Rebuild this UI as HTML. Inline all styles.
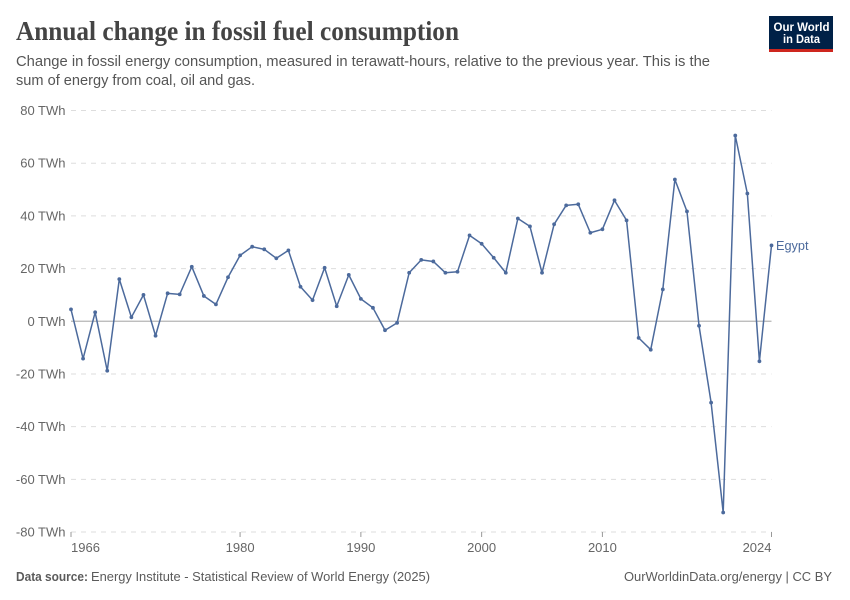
<!DOCTYPE html>
<html lang="en">
<head>
<meta charset="utf-8">
<title>Annual change in fossil fuel consumption</title>
<style>
html,body{margin:0;padding:0;background:#fff;}
#chart{display:block;width:850px;height:600px;font-family:"Liberation Sans",sans-serif;}
</style>
</head>
<body>
<svg id="chart" xmlns="http://www.w3.org/2000/svg" width="850" height="600" viewBox="0 0 850 600">
  <rect x="0" y="0" width="850" height="600" fill="#ffffff"/>
  <text x="16" y="40" font-family="'Liberation Serif',serif" font-weight="700" font-size="27" fill="#444444" textLength="443" lengthAdjust="spacingAndGlyphs">Annual change in fossil fuel consumption</text>
  <text x="16" y="66" font-size="14.5" fill="#555555" textLength="694" lengthAdjust="spacingAndGlyphs">Change in fossil energy consumption, measured in terawatt-hours, relative to the previous year. This is the</text>
  <text x="16" y="85" font-size="14.5" fill="#555555" textLength="239" lengthAdjust="spacingAndGlyphs">sum of energy from coal, oil and gas.</text>

  <g>
    <rect x="769" y="16" width="64" height="36" fill="#002147"/>
    <rect x="769" y="49" width="64" height="3" fill="#ce261e"/>
    <text x="801.5" y="31" text-anchor="middle" font-size="12" font-weight="700" fill="#ffffff" textLength="56" lengthAdjust="spacingAndGlyphs">Our World</text>
    <text x="801.5" y="43" text-anchor="middle" font-size="12" font-weight="700" fill="#ffffff" textLength="37" lengthAdjust="spacingAndGlyphs">in Data</text>
  </g>

  <g id="y-axis"></g>
  <g id="x-axis"></g>
  <g id="series"></g>

  <text x="16" y="581" font-size="12.5" font-weight="700" fill="#5b5b5b" textLength="72" lengthAdjust="spacingAndGlyphs">Data source:</text>
  <text x="91" y="581" font-size="12.5" fill="#5b5b5b" textLength="339" lengthAdjust="spacingAndGlyphs">Energy Institute - Statistical Review of World Energy (2025)</text>
  <text x="624" y="581" font-size="12.5" fill="#5b5b5b" textLength="208" lengthAdjust="spacingAndGlyphs">OurWorldinData.org/energy | CC BY</text>
</svg>
<script>
var years = [1966,1967,1968,1969,1970,1971,1972,1973,1974,1975,1976,1977,1978,1979,1980,1981,1982,1983,1984,1985,1986,1987,1988,1989,1990,1991,1992,1993,1994,1995,1996,1997,1998,1999,2000,2001,2002,2003,2004,2005,2006,2007,2008,2009,2010,2011,2012,2013,2014,2015,2016,2017,2018,2019,2020,2021,2022,2023,2024];
var egyptValues = [4.5,-14.2,3.4,-18.8,16,1.5,10,-5.5,10.6,10.2,20.7,9.6,6.4,16.7,25,28.3,27.3,23.9,26.9,13.1,8,20.3,5.7,17.6,8.5,5.1,-3.4,-0.6,18.4,23.3,22.7,18.4,18.8,32.6,29.4,24.1,18.4,39,36,18.4,36.8,44,44.4,33.6,34.9,45.9,38.3,-6.3,-10.8,12.1,53.8,41.7,-1.7,-30.9,-72.6,70.5,48.5,-15.2,28.8];
var yTicks = [-80,-60,-40,-20,0,20,40,60,80];
var xTicks = [1966,1980,1990,2000,2010,2024];
var seriesName = 'Egypt';

var NS = 'http://www.w3.org/2000/svg';
var LEFT = 71, RIGHT = 771.5, TOP = 110.5, BOTTOM = 532;
var SERIES_COLOR = '#4c6a9c';

function xScale(year) {
  var first = years[0], last = years[years.length - 1];
  return LEFT + (year - first) / (last - first) * (RIGHT - LEFT);
}
function yScale(value) {
  var top = yTicks[yTicks.length - 1], bottom = yTicks[0];
  return BOTTOM - (value - bottom) / (top - bottom) * (BOTTOM - TOP);
}
function make(tag, attrs, parent) {
  var el = document.createElementNS(NS, tag);
  for (var k in attrs) { el.setAttribute(k, attrs[k]); }
  parent.appendChild(el);
  return el;
}

var yAxis = document.getElementById('y-axis');
var xAxis = document.getElementById('x-axis');
var seriesGroup = document.getElementById('series');

yTicks.forEach(function (t) {
  var y = yScale(t);
  var line = make('line', {
    x1: LEFT, x2: RIGHT, y1: y, y2: y,
    stroke: t === 0 ? '#b5b5b5' : '#dddddd',
    'stroke-width': t === 0 ? 1.2 : 1,
    'stroke-dasharray': t === 0 ? 'none' : '5 5'
  }, yAxis);
  
  
  var label = make('text', {
    x: 65.5, y: y + 4.5, 'text-anchor': 'end', 'font-size': 13, fill: '#666666'
  }, yAxis);
  label.textContent = t + ' TWh';
  
  
});

xTicks.forEach(function (t, i) {
  var x = xScale(t);
  var tick = make('line', {
    x1: x, x2: x, y1: BOTTOM, y2: BOTTOM + 5, stroke: '#999999', 'stroke-width': 1
  }, xAxis);
  
  
  var anchor = i === 0 ? 'start' : (i === xTicks.length - 1 ? 'end' : 'middle');
  var label = make('text', {
    x: x, y: 552, 'text-anchor': anchor, 'font-size': 13, fill: '#666666'
  }, xAxis);
  label.textContent = t;
  
  
});

var pathData = years.map(function (yr, i) {
  return (i === 0 ? 'M' : 'L') + xScale(yr).toFixed(2) + ' ' + yScale(egyptValues[i]).toFixed(2);
}).join(' ');
var seriesLine = make('path', {
  d: pathData, fill: 'none', stroke: SERIES_COLOR, 'stroke-width': 1.5, 'stroke-linejoin': 'round'
}, seriesGroup);



years.forEach(function (yr, i) {
  var dot = make('circle', {
    cx: xScale(yr), cy: yScale(egyptValues[i]), r: 1.9, fill: SERIES_COLOR
  }, seriesGroup);
  
  
});

var lastValue = egyptValues[egyptValues.length - 1];
var seriesLabel = make('text', {
  x: 776, y: yScale(lastValue) + 4.5, 'font-size': 12.5, fill: SERIES_COLOR,
  textLength: 32.5, lengthAdjust: 'spacingAndGlyphs'
}, seriesGroup);
seriesLabel.textContent = seriesName;


</script>
</body>
</html>
